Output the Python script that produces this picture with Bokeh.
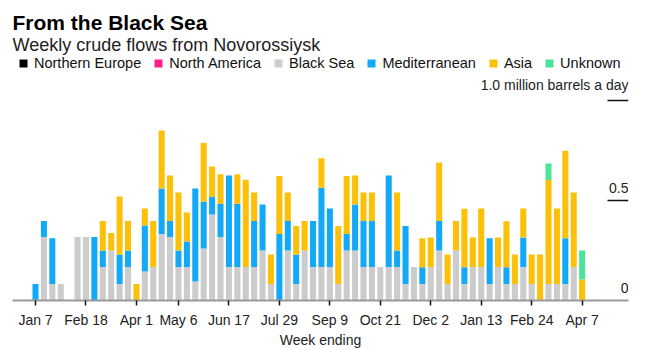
from bokeh.plotting import figure
from bokeh.models import ColumnDataSource, FixedTicker, Label, Legend, Range1d
from bokeh.core.properties import value
from bokeh.embed import file_html
from bokeh.resources import INLINE
import pandas as pd

# ---------------- data ----------------
weeks = pd.date_range("2018-01-07", periods=66, freq="7D")
series = ["Northern Europe", "North America", "Black Sea", "Mediterranean", "Asia", "Unknown"]
colors = ["#000000", "#ff1e8c", "#cccccc", "#13a9f6", "#fdc008", "#4ae59a"]

northern_europe = [0.0] * 66
north_america = [0.0] * 66
black_sea = [0, 0.317, 0.083, 0.083, 0, 0.317, 0.317, 0, 0.167, 0.25,
             0.083, 0.167, 0, 0.145, 0.167, 0.333, 0.317, 0.167, 0.167, 0.095,
             0.26, 0.43, 0.317, 0.167, 0.167, 0.167, 0.167, 0.25, 0.083, 0,
             0.25, 0.083, 0.25, 0.167, 0.167, 0.167, 0.083, 0.25, 0.25, 0.167,
             0.167, 0.167, 0.167, 0.167, 0.083, 0.167, 0.083, 0.167, 0.25, 0.083,
             0.25, 0.083, 0.167, 0.167, 0.083, 0.167, 0.083, 0.083, 0.167, 0.083,
             0, 0.083, 0.083, 0.083, 0.167, 0]
mediterranean = [0.083, 0.08, 0.228, 0, 0, 0, 0, 0.317, 0.083, 0,
                 0.147, 0.083, 0, 0.23, 0, 0.227, 0.08, 0.083, 0.128, 0.465,
                 0.235, 0.087, 0.167, 0.458, 0.317, 0, 0.23, 0.23, 0, 0.333,
                 0.147, 0.147, 0, 0.23, 0.397, 0.293, 0, 0.083, 0.23, 0.23,
                 0.23, 0, 0.458, 0.083, 0.29, 0, 0.083, 0, 0.147, 0,
                 0, 0.083, 0, 0, 0.228, 0, 0.083, 0, 0.148, 0,
                 0, 0, 0, 0.228, 0, 0]
asia = [0, 0, 0, 0, 0, 0, 0, 0, 0.147, 0.087,
        0.29, 0.147, 0.083, 0.085, 0.23, 0.29, 0.228, 0.29, 0.145, 0,
        0.293, 0.153, 0.147, 0, 0.147, 0.437, 0.143, 0, 0.147, 0.29,
        0.143, 0.143, 0.147, 0, 0.147, 0, 0.29, 0.29, 0.145, 0.143,
        0.143, 0, 0, 0.29, 0, 0, 0.145, 0.148, 0.293, 0.147,
        0.147, 0.293, 0.148, 0.293, 0, 0.148, 0.23, 0.147, 0.145, 0.147,
        0.23, 0.52, 0.377, 0.438, 0.373, 0.105]
unknown = [0.0] * 61 + [0.082, 0, 0, 0, 0.145]

tick_idx = [0, 6, 12, 17, 23, 29, 35, 41, 47, 53, 59, 65]
tick_labels = ["Jan 7", "Feb 18", "Apr 1", "May 6", "Jun 17", "Jul 29",
               "Sep 9", "Oct 21", "Dec 2", "Jan 13", "Feb 24", "Apr 7"]
y_ticks = [0.5, 1.0]
y_tick_labels = ["0", "0.5", "1.0 million barrels a day"]
y_label_vals = [0.0, 0.5, 1.0]

# ---------------- layout ----------------
W, H = 647, 350
left, right, bottom = 12, 19, 50
first_px, px_per_week = 35.0, 8.41       # centre of first bar, spacing
frame_w = W - left - right
frame_h = 300                             # expected frame height (axis panel 50 px)
x_start = (left - first_px) / px_per_week
x_end = x_start + frame_w / px_per_week
y_start, y_end = 0.0, frame_h / 200.0


def px_x(px):
    return x_start + (px - left) / px_per_week


def px_y(py):
    return (frame_h - py) / 200.0


FONT = "Liberation Sans"

src = ColumnDataSource(dict(
    x=list(range(len(weeks))),
    **{"Northern Europe": northern_europe, "North America": north_america,
       "Black Sea": black_sea, "Mediterranean": mediterranean,
       "Asia": asia, "Unknown": unknown}))

p = figure(width=W, height=H, output_backend="svg", toolbar_location=None,
           x_range=Range1d(x_start, x_end), y_range=Range1d(y_start, y_end),
           y_axis_location=None, min_border_left=left, min_border_right=right,
           min_border_top=0, min_border_bottom=bottom)
p.outline_line_color = None
p.xgrid.visible = False
p.ygrid.visible = False
p.background_fill_color = "white"

renderers = p.vbar_stack(series, x="x", width=0.72, color=colors, line_color=None,
                         source=src)

legend = Legend(items=[(s, [r]) for s, r in zip(series, renderers)],
                orientation="horizontal", location=(18 - left, frame_h - 71),
                glyph_width=10, glyph_height=10, label_standoff=6, spacing=12,
                padding=0, margin=0, label_height=16,
                label_text_font=FONT, label_text_font_size="14.5px",
                label_text_color="#111111", border_line_color=None,
                background_fill_alpha=0)
p.add_layout(legend)

ax = p.xaxis[0]
ax.ticker = FixedTicker(ticks=tick_idx)
ax.major_label_overrides = {t: l for t, l in zip(tick_idx, tick_labels)}
ax.axis_line_color = "#999999"
ax.axis_line_width = 2
ax.major_tick_line_color = "#111111"
ax.major_tick_line_width = 1.5
ax.major_tick_in = 0
ax.major_tick_out = 5
ax.minor_tick_line_color = None
ax.major_label_standoff = 6
ax.major_label_text_font = FONT
ax.major_label_text_font_size = "14px"
ax.major_label_text_color = "#222222"
ax.axis_label = "Week ending"
ax.axis_label_standoff = 1
ax.axis_label_text_font = FONT
ax.axis_label_text_font_size = "14px"
ax.axis_label_text_font_style = "normal"
ax.axis_label_text_color = "#222222"

# right-hand value labels with short rules
p.segment(x0=[px_x(607)] * len(y_ticks), x1=[x_end] * len(y_ticks),
          y0=y_ticks, y1=y_ticks, line_color="#111111", line_width=1.5)
p.text(x=[x_end] * len(y_label_vals), y=y_label_vals, text=y_tick_labels,
       text_align="right", text_baseline="bottom", y_offset=-8,
       text_font=value(FONT), text_font_size="14px", text_color="#222222")

p.add_layout(Label(x=px_x(12), y=px_y(22), text="From the Black Sea",
                   text_font=FONT, text_font_size="21px", text_font_style="bold",
                   text_color="#000000", text_baseline="alphabetic"))
p.add_layout(Label(x=px_x(12), y=px_y(44), text="Weekly crude flows from Novorossiysk",
                   text_font=FONT, text_font_size="18px",
                   text_color="#222222", text_baseline="alphabetic"))

open("out.html", "w").write(file_html(p, INLINE))
